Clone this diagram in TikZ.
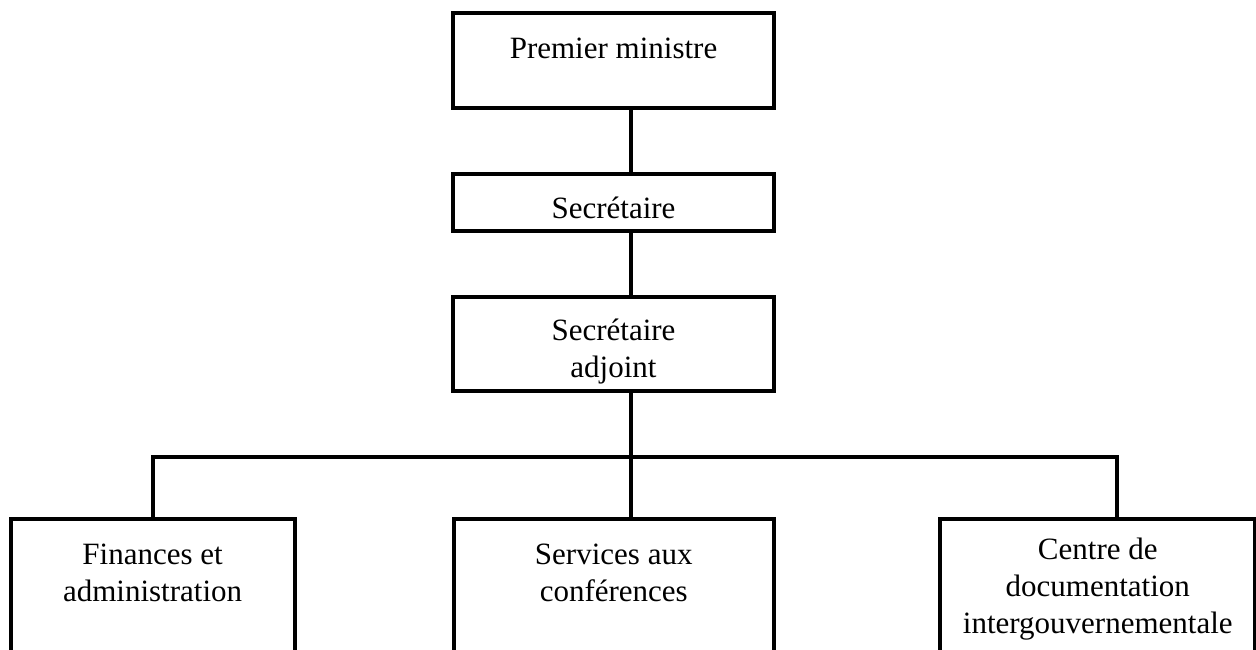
\documentclass[tikz,border=0pt]{standalone}
\usepackage{fontspec}
\setmainfont{Liberation Serif}
\tikzset{
  box/.style={draw, line width=2pt, rectangle, inner sep=0pt},
  txt/.style={align=center, anchor=base, inner sep=0pt, font=\fontsize{15.5}{18.5}\selectfont},
  wire/.style={line width=2pt}
}
\begin{document}
\begin{tikzpicture}[x=0.5pt,y=-0.5pt]
\useasboundingbox (0,0) rectangle (1256,649);
\clip (0,0) rectangle (1256,649);
\node [box, minimum width=160.5pt, minimum height=47.75pt] (pm) at (613.5,60.25) {};
\node [box, minimum width=160.5pt, minimum height=28.4pt] (sec) at (613.5,202.1) {};
\node [box, minimum width=160.5pt, minimum height=46.75pt] (adj) at (613.5,343.75) {};
\node [box, minimum width=142.1pt, minimum height=150pt] (fin) at (152.6,668.7) {};
\node [box, minimum width=160pt, minimum height=150pt] (srv) at (613.75,668.7) {};
\node [box, minimum width=157.5pt, minimum height=150pt] (cdi) at (1097.8,668.7) {};
\node [txt] (pm-t) at (613.5,58) {Premier ministre};
\node [txt] (sec-t) at (613.5,218) {Secrétaire};
\node [txt] (adj-t) at (613.5,377) {Secrétaire\\ adjoint};
\node [txt] (fin-t) at (152.6,601) {Finances et\\administration};
\node [txt] (srv-t) at (613.75,601) {Services aux\\conférences};
\node [txt] (cdi-t) at (1097.8,633) {Centre de\\documentation\\intergouvernementale};
\coordinate (spine) at (631,0);
\coordinate (busL) at (153,457);
\coordinate (busR) at (1117,457);
\draw [wire] (pm.south -| spine) -- (sec.north -| spine);
\draw [wire] (sec.south -| spine) -- (adj.north -| spine);
\draw [wire] (adj.south -| spine) -- (srv.north -| spine);
\draw [wire] (busL |- fin.north) -- (busL) -- (busR) -- (busR |- cdi.north);
\end{tikzpicture}
\end{document}
